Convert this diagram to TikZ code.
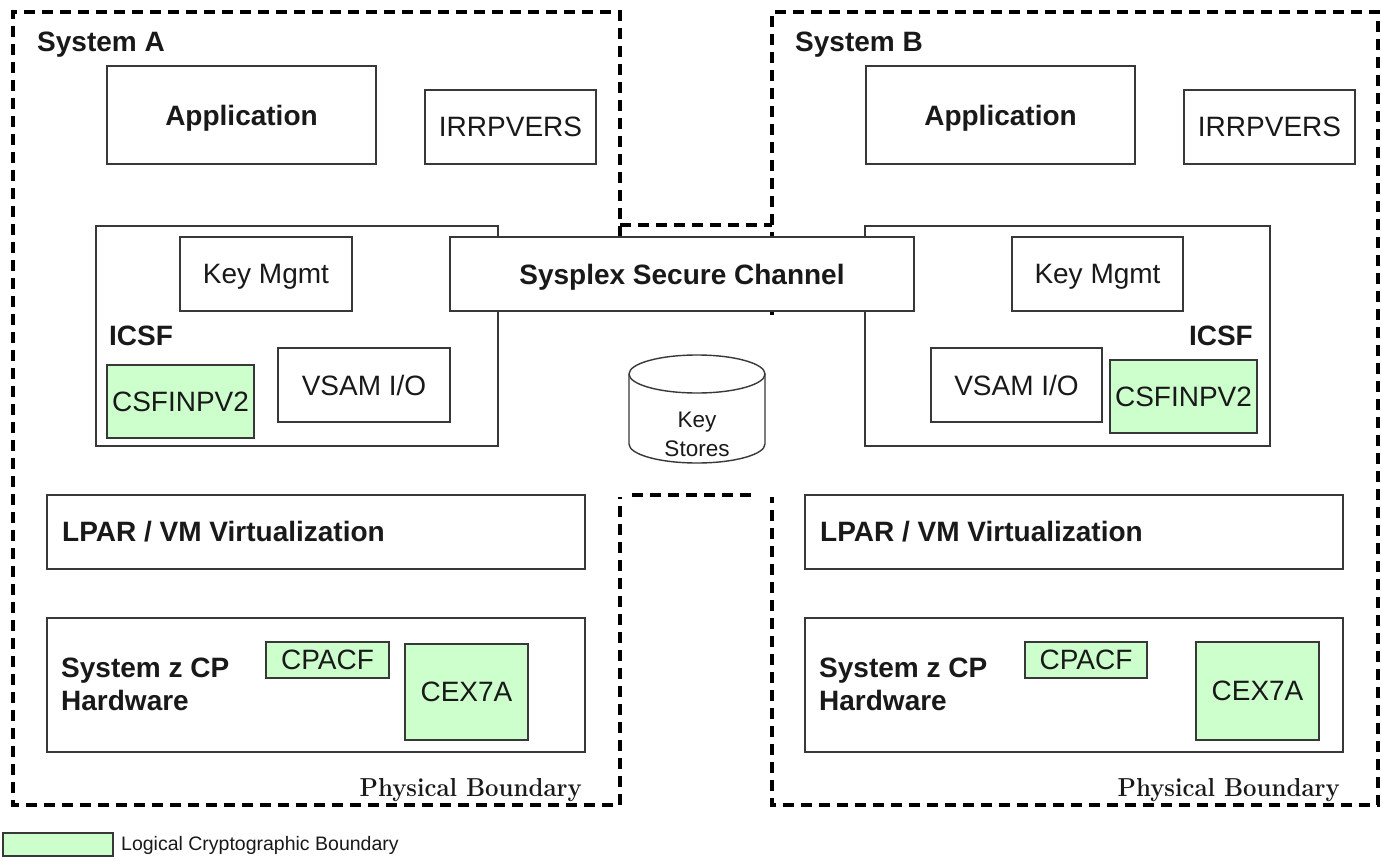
\documentclass[tikz,border=0pt]{standalone}
\usepackage{fontspec}
\newfontfamily\arialf{Liberation Sans}
\begin{document}
\begin{tikzpicture}[x=1pt,y=-1pt,
  bline/.style={draw=black!78, line width=1.4pt},
  box/.style={bline, fill=white, inner sep=0pt, text=black!90, text depth=0pt,
    font=\arialf\fontsize{28}{32}\selectfont},
  bbox/.style={box, font=\arialf\bfseries\fontsize{28}{32}\selectfont},
  gbox/.style={box, fill=cryptgreen},
  lbl/.style={inner sep=0pt, text=black!90, text depth=0pt, font=\arialf\bfseries\fontsize{28}{33}\selectfont, align=left},
  phys/.style={inner sep=0pt, text=black!90, text depth=0pt, font=\bfseries\fontsize{26}{30}\selectfont},
  boundary/.style={draw=black, line width=3.3pt, dash pattern=on 11pt off 7pt}]
\definecolor{cryptgreen}{HTML}{CCFFCC}
\useasboundingbox (0,0) rectangle (1383,861);
\fill[white] (0,0) rectangle (1383,861);

% physical boundaries
\draw[boundary] (620,237) -- (620,12) -- (13,12) -- (13,805) -- (620,805) -- (620,497);
\draw[boundary] (772,315) -- (772,12) -- (1378,12) -- (1378,805) -- (772,805) -- (772,497);
\draw[boundary] (620,225) -- (772,225);
\draw[boundary] (632,495) -- (752,495);

% ---------- System A ----------
\node[lbl, anchor=west] (asys) at (37,42) {System A};
\node[bbox, minimum width=269, minimum height=98] (aapp) at (241.5,115) {Application};
\node[box, minimum width=171, minimum height=74] (airr) at (510.5,127) {IRRPVERS};
\node[bline, fill=white, inner sep=0pt, minimum width=402, minimum height=220] (aicsf) at (297,336) {};
\node[box, minimum width=172, minimum height=74] (akey) at (266,274) {Key Mgmt};
\node[lbl, anchor=west] (aicsfl) at (109,336) {ICSF};
\node[gbox, minimum width=147, minimum height=73] (acsf) at (180.5,401.5) {CSFINPV2};
\node[box, minimum width=172, minimum height=74] (avsam) at (364,385) {VSAM I/O};
\node[bline, fill=white, inner sep=0pt, minimum width=538, minimum height=74] (alpar) at (316,532) {};
\node[lbl, anchor=west] (alparl) at (62,531) {LPAR / VM Virtualization};
\node[bline, fill=white, inner sep=0pt, minimum width=538, minimum height=134] (ahw) at (316,685) {};
\node[lbl, anchor=west] (ahwl) at (61,684.5) {System z CP\\Hardware};
\node[gbox, minimum width=123, minimum height=36] (acpacf) at (327.5,660) {CPACF};
\node[gbox, minimum width=123, minimum height=96] (acex) at (466.5,692) {CEX7A};
\node[phys, anchor=east] (aphys) at (582,787) {\scalebox{0.92}[1]{Physical Boundary}};

% ---------- System B ----------
\node[lbl, anchor=west] (bsys) at (795,42) {System B};
\node[bbox, minimum width=269, minimum height=98] (bapp) at (1000.5,115) {Application};
\node[box, minimum width=171, minimum height=74] (birr) at (1269.5,127) {IRRPVERS};
\node[bline, fill=white, inner sep=0pt, minimum width=405, minimum height=220] (bicsf) at (1067.5,336) {};
\node[box, minimum width=171, minimum height=74] (bkey) at (1097.5,274) {Key Mgmt};
\node[lbl, anchor=east] (bicsfl) at (1253,336) {ICSF};
\node[box, minimum width=171, minimum height=74] (bvsam) at (1016.5,385) {VSAM I/O};
\node[gbox, minimum width=147, minimum height=73] (bcsf) at (1183.5,396.5) {CSFINPV2};
\node[bline, fill=white, inner sep=0pt, minimum width=538, minimum height=74] (blpar) at (1074,532) {};
\node[lbl, anchor=west] (blparl) at (820,531) {LPAR / VM Virtualization};
\node[bline, fill=white, inner sep=0pt, minimum width=538, minimum height=134] (bhw) at (1074,685) {};
\node[lbl, anchor=west] (bhwl) at (819,684.5) {System z CP\\Hardware};
\node[gbox, minimum width=122, minimum height=36] (bcpacf) at (1086,660) {CPACF};
\node[gbox, minimum width=123, minimum height=98] (bcex) at (1257.5,691) {CEX7A};
\node[phys, anchor=east] (bphys) at (1340,787) {\scalebox{0.92}[1]{Physical Boundary}};

% ---------- shared ----------
\node[bbox, minimum width=464, minimum height=74] (sysplex) at (682,274) {Sysplex Secure Channel};
\draw[bline, fill=white] (629,374) -- (629,444) arc[start angle=180, end angle=0, x radius=68, y radius=19] -- (765,374);
\draw[bline, fill=white] (697,374) ellipse [x radius=68, y radius=19];
\node[inner sep=0pt, align=center, text=black!90, text depth=0pt, font=\arialf\fontsize{22.5}{29}\selectfont] (keys) at (697,434.5) {Key\\Stores};

% legend
\node[gbox, minimum width=110, minimum height=23] (leg) at (58,844.5) {};
\node[inner sep=0pt, anchor=west, text=black!90, font=\arialf\fontsize{19.5}{22}\selectfont] (legl) at (121,845) {Logical Cryptographic Boundary};
\end{tikzpicture}
\end{document}
